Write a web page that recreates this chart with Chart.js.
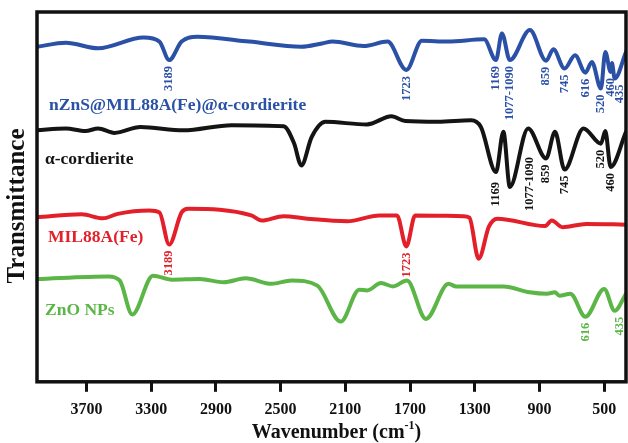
<!DOCTYPE html>
<html>
<head>
<meta charset="utf-8">
<script src="https://cdn.jsdelivr.net/npm/chart.js@4"></script>
<style>
  html, body { margin: 0; padding: 0; background: #fff; }
  #wrap { width: 628px; height: 443px; }
</style>
</head>
<body>
<div id="wrap"><canvas id="ftir"></canvas></div>
<script>
// wavenumber ticks (cm-1)
const xTicks = [3700, 3300, 2900, 2500, 2100, 1700, 1300, 900, 500];

// nZnS@MIL88A(Fe)@a-cordierite
const zsmcWave = [4006, 3828, 3628, 3347, 3249, 3189, 3112, 3015, 2694, 2372, 2244, 2179, 1987, 1839, 1723, 1627, 1467, 1242, 1169, 1132, 1083, 959, 859, 814, 745, 680, 616, 576, 520, 493, 460, 452, 435, 365];
const zsmcT = [90.6, 91.7, 90.2, 93.1, 92.0, 87.0, 92.0, 93.3, 92.0, 90.6, 91.5, 92.0, 90.8, 92.0, 84.3, 92.2, 92.0, 92.6, 87.0, 94.2, 87.0, 95.1, 86.8, 89.9, 84.7, 88.3, 83.6, 86.5, 79.3, 89.2, 83.8, 86.2, 82.0, 89.2];
const zsmcPeaks = [3189, 1723, 1169, 1083, 859, 745, 616, 520, 460, 435];
const zsmcPeakText = ['3189', '1723', '1169', '1077-1090', '859', '745', '616', '520', '460', '435'];

// a-cordierite
const cordWave = [4006, 3828, 3707, 3628, 3527, 3367, 3101, 2803, 2482, 2417, 2372, 2308, 2224, 1967, 1815, 1729, 1528, 1323, 1262, 1169, 1123, 1083, 970, 859, 804, 745, 628, 520, 493, 460, 365];
const cordT = [68.0, 68.5, 67.8, 68.5, 67.3, 68.9, 68.0, 69.4, 69.1, 64.5, 58.5, 66.2, 70.3, 69.6, 71.8, 70.5, 70.3, 70.7, 68.9, 56.7, 67.6, 52.7, 68.5, 60.4, 67.6, 57.4, 68.5, 64.4, 67.8, 58.1, 67.6];
const cordPeaks = [1169, 1083, 859, 745, 520, 460];
const cordPeakText = ['1169', '1077-1090', '859', '745', '520', '460'];

// MIL88A(Fe)
const milWave = [4006, 3730, 3599, 3507, 3312, 3249, 3189, 3112, 3073, 2681, 2617, 2482, 2334, 2089, 1890, 1781, 1723, 1668, 1370, 1333, 1276, 1212, 1161, 865, 824, 757, 611, 365];
const milT = [44.5, 45.3, 44.2, 45.4, 46.3, 45.8, 37.1, 45.8, 46.8, 45.0, 43.6, 44.8, 44.1, 43.4, 45.0, 45.0, 36.6, 45.0, 44.8, 44.4, 33.3, 42.0, 44.1, 42.1, 43.6, 41.8, 42.7, 42.5];
const milPeaks = [3189, 1723];
const milPeakText = ['3189', '1723'];

// ZnO NPs
const znoWave = [4006, 3564, 3495, 3417, 3289, 3172, 3000, 2852, 2716, 2556, 2433, 2273, 2128, 2014, 1965, 1879, 1805, 1719, 1602, 1462, 1415, 1122, 961, 853, 804, 777, 709, 616, 500, 435, 365];
const znoT = [27.8, 28.5, 27.4, 18.2, 28.7, 27.6, 27.8, 26.9, 28.0, 26.5, 27.4, 26.0, 16.3, 24.9, 24.7, 26.7, 25.8, 27.4, 17.0, 26.5, 25.8, 25.8, 24.2, 23.8, 24.2, 23.3, 23.8, 17.6, 25.1, 19.2, 23.8];
const znoPeaks = [616, 435];
const znoPeakText = ['616', '435'];

const serif = "'Times New Roman', 'Liberation Serif', serif";

const series = [
  { key: 'zsmc', name: 'nZnS@MIL88A(Fe)@\u03b1-cordierite', wave: zsmcWave, t: zsmcT, peaks: zsmcPeaks, peakText: zsmcPeakText, color: '#2a51a5', nx: 49, ny: 105 },
  { key: 'cord', name: '\u03b1-cordierite', wave: cordWave, t: cordT, peaks: cordPeaks, peakText: cordPeakText, color: '#141414', nx: 45, ny: 159 },
  { key: 'mil', name: 'MIL88A(Fe)', wave: milWave, t: milT, peaks: milPeaks, peakText: milPeakText, color: '#e3202a', nx: 48, ny: 237 },
  { key: 'zno', name: 'ZnO NPs', wave: znoWave, t: znoT, peaks: znoPeaks, peakText: znoPeakText, color: '#5cb547', nx: 45, ny: 310 },
];

// a few peak labels sit beside their band instead of under it
const nudges = {
  'cord:1169': { dx: 0, dy: 4 },
  'cord:1077-1090': { dx: 20, dy: -36 },
  'zsmc:435': { dx: 5, dy: 0 },
  'zno:435': { dx: 5, dy: 0 },
};

const decor = {
  id: 'decor',
  afterDatasetsDraw(chart) {
    const { ctx, chartArea: a, scales: { x, y } } = chart;
    ctx.save();

    // frame
    ctx.lineWidth = 3.5;
    ctx.strokeStyle = '#111';
    ctx.strokeRect(a.left, a.top, a.right - a.left, a.bottom - a.top);

    // sample names
    ctx.textAlign = 'left';
    ctx.textBaseline = 'middle';
    ctx.font = `bold 17.5px ${serif}`;
    series.forEach((s) => {
      ctx.fillStyle = s.color;
      ctx.fillText(s.name, s.nx, s.ny);
    });

    // band positions, written downwards from each minimum
    ctx.font = `bold 12.5px ${serif}`;
    series.forEach((s) => {
      ctx.fillStyle = s.color;
      s.peaks.forEach((p, k) => {
        const i = s.wave.indexOf(p);
        const n = nudges[s.key + ':' + s.peakText[k]] || { dx: 0, dy: 0 };
        const px = x.getPixelForValue(p) + n.dx;
        const py = y.getPixelForValue(s.t[i]) + 6 + n.dy;
        ctx.save();
        ctx.translate(px, py);
        ctx.rotate(-Math.PI / 2);
        ctx.textAlign = 'right';
        ctx.textBaseline = 'middle';
        ctx.fillText(s.peakText[k], 0, 0);
        ctx.restore();
      });
    });

    // axis titles
    ctx.fillStyle = '#111';
    ctx.save();
    ctx.translate(18, 206);
    ctx.rotate(-Math.PI / 2);
    ctx.textAlign = 'center';
    ctx.font = `bold 25px ${serif}`;
    ctx.fillText('Transmittance', 0, 0);
    ctx.restore();

    const big = `bold 20px ${serif}`;
    const small = `bold 12px ${serif}`;
    ctx.font = big;
    const w1 = ctx.measureText('Wavenumber (cm').width;
    const w3 = ctx.measureText(')').width;
    ctx.font = small;
    const w2 = ctx.measureText('-1').width;
    let tx = (a.left + a.right) / 2 + 5 - (w1 + w2 + w3) / 2;
    const ty = 433;
    ctx.textAlign = 'left';
    ctx.font = big;
    ctx.fillText('Wavenumber (cm', tx, ty);
    tx += w1;
    ctx.font = small;
    ctx.fillText('-1', tx, ty - 7);
    tx += w2;
    ctx.font = big;
    ctx.fillText(')', tx, ty);

    ctx.restore();
  },
};

new Chart(document.getElementById('ftir'), {
  type: 'line',
  data: {
    datasets: series.map((s) => ({
      label: s.name,
      data: s.wave.map((w, i) => ({ x: w, y: s.t[i] })),
      borderColor: s.color,
      fill: false,
    })),
  },
  options: {
    responsive: true,
    maintainAspectRatio: false,
    animation: false,
    layout: { padding: { top: 12, left: 37, right: 2, bottom: 16 } },
    plugins: { legend: { display: false }, tooltip: { enabled: false } },
    elements: {
      point: { radius: 0 },
      line: { borderWidth: 4, cubicInterpolationMode: 'monotone', borderCapStyle: 'round', borderJoinStyle: 'round' },
    },
    scales: {
      x: {
        type: 'linear',
        reverse: true,
        min: 365,
        max: 4006,
        afterBuildTicks: (ax) => {
          ax.ticks = xTicks.map((v) => ({ value: v }));
        },
        grid: { drawOnChartArea: false, drawTicks: true, tickLength: 10, tickWidth: 3, tickColor: '#111' },
        border: { display: false },
        ticks: {
          color: '#111',
          padding: 8,
          maxRotation: 0,
          autoSkip: false,
          callback: (v) => String(v),
          font: { family: serif, size: 16, weight: 'bold' },
        },
      },
      y: { display: false, min: 0, max: 100 },
    },
  },
  plugins: [decor],
});
</script>
</body>
</html>
